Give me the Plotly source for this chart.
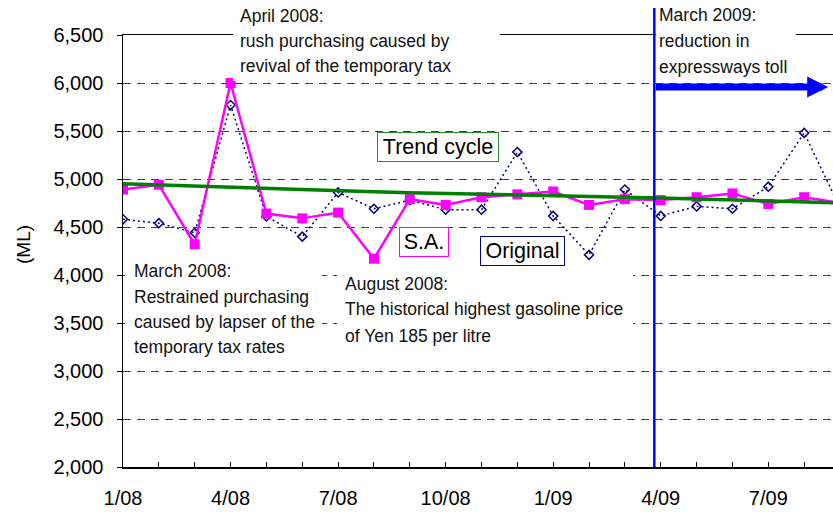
import plotly.graph_objects as go

# ---- data ----
months = list(range(21))  # 0 = Jan 2008 ... 20 = Sep 2009
tick_months = [0, 3, 6, 9, 12, 15, 18]
tick_labels = ["1/08", "4/08", "7/08", "10/08", "1/09", "4/09", "7/09"]

original = [4580, 4540, 4440, 5770, 4610, 4400, 4860, 4690, 4780, 4680, 4680,
            5280, 4615, 4210, 4890, 4615, 4715, 4690, 4920, 5480, 4700]
sa = [4890, 4940, 4320, 6000, 4640, 4590, 4650, 4170, 4790, 4730, 4810,
      4840, 4870, 4730, 4790, 4780, 4810, 4850, 4740, 4810, 4750]
trend = [4950, 4937, 4924, 4911, 4898, 4886, 4874, 4866, 4858, 4851, 4844,
         4837, 4830, 4821, 4811, 4801, 4791, 4781, 4771, 4761, 4751]

y_ticks = [2000, 2500, 3000, 3500, 4000, 4500, 5000, 5500, 6000, 6500]
toll_cut_month = 14.82   # March 2009 marker line

# ---- layout geometry ----
W, H = 833, 512
ML, MR, MT, MB = 123, 0, 35, 45
PW, PH = W - ML - MR, H - MT - MB
PX_PER_MONTH = 35.85
x_max = PW / PX_PER_MONTH

def px(xp):
    return (xp - ML) / PW

def py(yp):
    return (H - MB - yp) / PH

SANS = "Liberation Sans, Arial, sans-serif"
TICK_FONT = dict(family=SANS, size=20, color="black")
NOTE_FONT = dict(family=SANS, size=17.5, color="#111111")
LABEL_FONT = dict(family=SANS, size=21.5, color="black")

fig = go.Figure()
fig.add_trace(go.Scatter(
    x=months, y=original, mode="lines+markers", name="Original",
    line=dict(color="#000080", width=1.5, dash="2px,3px"),
    marker=dict(symbol="diamond-open", size=7, color="#000080", line=dict(width=1.5)),
    cliponaxis=True))
fig.add_trace(go.Scatter(
    x=months, y=sa, mode="lines+markers", name="S.A.",
    line=dict(color="#FF00FF", width=2.5),
    marker=dict(symbol="square", size=10, color="#FF00FF"),
    cliponaxis=True))
fig.add_trace(go.Scatter(
    x=months, y=trend, mode="lines", name="Trend cycle",
    line=dict(color="#008000", width=3.5),
    cliponaxis=True))

annotations = []

def note(lines, box, text_x, centers):
    left, top, right, bottom = box
    annotations.append(dict(
        xref="paper", yref="paper", x=px(left), y=py(top),
        xanchor="left", yanchor="top", text=" ", showarrow=False,
        bgcolor="white", borderpad=0, borderwidth=0,
        width=right - left, height=bottom - top))
    for line, cy in zip(lines, centers):
        annotations.append(dict(
            xref="paper", yref="paper", x=px(text_x), y=py(cy),
            xanchor="left", yanchor="middle", text=line, showarrow=False,
            align="left", font=NOTE_FONT))

note(["April 2008:", "rush purchasing caused by", "revival of the temporary tax"],
     (233, 0, 500, 81), 238, [16, 41, 66])
note(["March 2009:", "reduction in", "expressways toll"],
     (655.5, 0, 795, 80), 657, [15, 41, 67])
note(["March 2008:", "Restrained purchasing", "caused by lapser of the",
      "temporary tax rates"],
     (125, 252, 322, 368), 132, [271, 297, 322, 347])
note(["August 2008:", "The historical highest gasoline price", "of Yen 185 per litre"],
     (337, 265, 633, 360), 343, [284, 309, 336])

def label(text, left, top, right, bottom, color):
    annotations.append(dict(
        xref="paper", yref="paper", x=px((left + right) / 2), y=py((top + bottom) / 2),
        xanchor="center", yanchor="middle", text=text, showarrow=False,
        font=LABEL_FONT, bgcolor="white", bordercolor=color, borderwidth=1,
        borderpad=0, width=(right - left) - 2, height=(bottom - top) - 2))

label("Trend cycle", 377, 132, 499, 162, "#2E8B2E")
label("S.A.", 399, 227, 449, 257, "#FF00FF")
label("Original", 480, 236, 565, 266, "#000080")

# arrow for the toll reduction period
annotations.append(dict(
    xref="x", yref="y", axref="x", ayref="y",
    x=19.67, y=5958, ax=toll_cut_month, ay=5958,
    text="", showarrow=True, arrowhead=2, arrowsize=0.6, arrowwidth=7,
    arrowcolor="#0000FF", standoff=0, startstandoff=0))

# y-axis title
annotations.append(dict(
    xref="paper", yref="paper", x=px(23), y=py(245), text="(ML)",
    textangle=-90, showarrow=False, xanchor="center", yanchor="middle",
    font=dict(family=SANS, size=19, color="black")))

shapes = [dict(type="line", xref="x", yref="paper",
               x0=toll_cut_month, x1=toll_cut_month, y0=0, y1=py(8),
               line=dict(color="#0000FF", width=2.5), layer="above")]

fig.update_layout(
    width=W, height=H, autosize=False,
    margin=dict(l=ML, r=MR, t=MT, b=MB, pad=0),
    paper_bgcolor="white", plot_bgcolor="white",
    showlegend=False, hovermode=False,
    annotations=annotations, shapes=shapes,
    xaxis=dict(
        range=[0, x_max], tickmode="array", tickvals=tick_months, ticktext=tick_labels,
        ticks="inside", ticklen=5, tickwidth=1, tickcolor="black",
        minor=dict(tickmode="linear", tick0=0, dtick=1, ticks="inside", ticklen=5,
                   tickcolor="black", tickwidth=1, showgrid=False),
        showgrid=False, zeroline=False,
        showline=True, linecolor="black", linewidth=1.5, mirror=True,
        tickfont=TICK_FONT, ticklabelstandoff=12),
    yaxis=dict(
        range=[2000, 6500], tickmode="array", tickvals=y_ticks, tickformat=",",
        ticks="outside", ticklen=5, tickwidth=1, tickcolor="black",
        showgrid=True, gridcolor="#404040", gridwidth=1, griddash="8px,6px",
        zeroline=False, showline=True, linecolor="black", linewidth=1.5,
        tickfont=TICK_FONT, ticklabelstandoff=9),
)

fig.write_html(
    "out.html",
    config={"displayModeBar": False, "staticPlot": True},
    post_script=("document.body.style.margin='0';"
                 "document.body.style.overflow='hidden';"
                 "document.documentElement.style.overflow='hidden';"))
